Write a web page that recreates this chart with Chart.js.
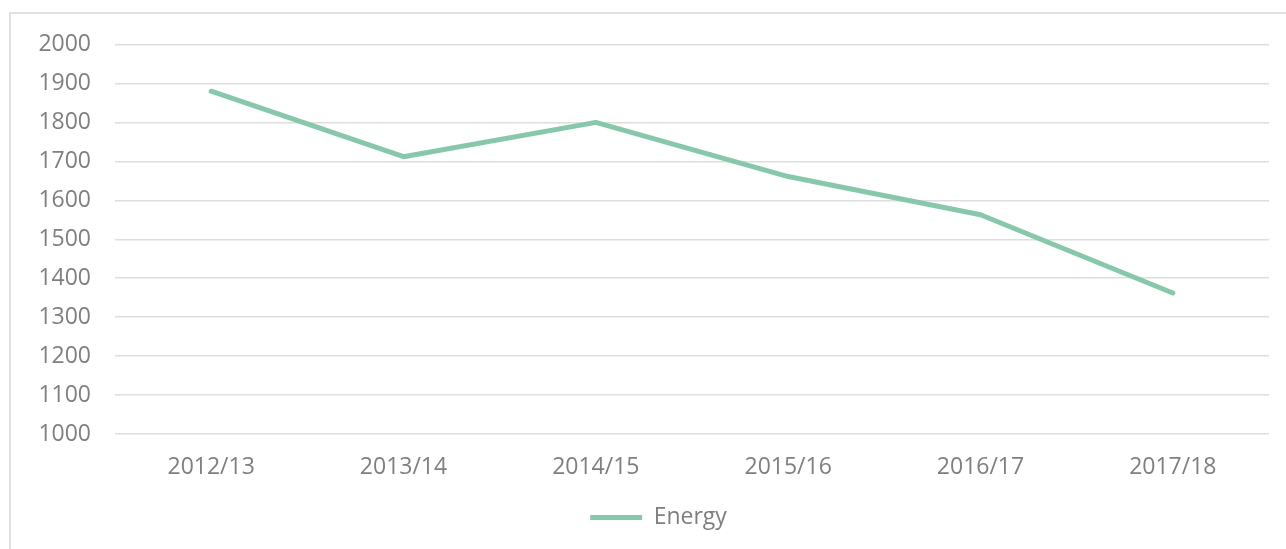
<!DOCTYPE html>
<html lang="en">
    <head>
        <title>Energy</title>
        <meta charset="utf-8">
        <script src="https://cdn.jsdelivr.net/npm/chart.js@4.4.0/dist/chart.umd.min.js"></script>
        <style>
            html, body {
                margin: 0;
                padding: 0;
                background: #ffffff;
                overflow: hidden;
            }
            #frame { /* light border round the chart, runs off right and bottom */
                position: absolute;
                left: 9px;
                top: 12px;
                width: 1300px;
                height: 560px;
                border: 2px solid #e0e0e0;
            }
            #chartBox {
                position: absolute;
                left: 0;
                top: 0;
                width: 1286px;
                height: 549px;
            }
        </style>
    </head>
    <body>
        <div id="frame"></div>
        <div id="chartBox">
            <canvas id="energyChart"></canvas>
        </div>
        <script>
            // data
            var years = ['2012/13', '2013/14', '2014/15', '2015/16', '2016/17', '2017/18'];
            var energy = [1880, 1712, 1800, 1661, 1563, 1362];
            var seriesName = 'Energy';
            var yMin = 1000, yMax = 2000, yStep = 100;

            var grey = '#7f7f7f';
            var green = '#88c8aa';
            var font = { family: 'Open Sans', size: 23 };

            // legend sits a little right of the middle in the original
            var shiftLegend = {
                id: 'shiftLegend',
                afterLayout: function (chart) {
                    chart.legend.left += 24;
                    chart.legend.right += 24;
                }
            };

            var ctx = document.getElementById('energyChart').getContext('2d');
            var myChart = new Chart(ctx, {
                type: 'line',
                data: {
                    labels: years,
                    datasets: [{
                        label: seriesName,
                        data: energy,
                        borderColor: green,
                        backgroundColor: green,
                        borderWidth: 5,
                        borderCapStyle: 'round',
                        borderJoinStyle: 'round',
                        pointRadius: 0,
                        tension: 0,
                        fill: false
                    }]
                },
                options: {
                    responsive: true,
                    maintainAspectRatio: false,
                    animation: false,
                    layout: { padding: { top: 44.5, right: 17, bottom: 10, left: 0 } },
                    plugins: {
                        tooltip: { enabled: false },
                        legend: {
                            position: 'bottom',
                            labels: {
                                color: grey,
                                font: font,
                                boxWidth: 52,
                                boxHeight: 5,
                                padding: 10,
                                generateLabels: function (chart) {
                                    var items = Chart.defaults.plugins.legend.labels.generateLabels(chart);
                                    items.forEach(function (it) { it.lineWidth = 0; });
                                    return items;
                                }
                            }
                        }
                    },
                    scales: {
                        x: {
                            offset: true,
                            grid: { display: false, drawTicks: false },
                            border: { display: false },
                            ticks: { color: grey, font: font, padding: 20, maxRotation: 0 },
                            afterFit: function (scale) { scale.height = 62; }
                        },
                        y: {
                            min: yMin,
                            max: yMax,
                            grid: { color: '#dedede', lineWidth: 1.5, drawTicks: false },
                            border: { display: false },
                            ticks: {
                                stepSize: yStep, color: grey, font: font, padding: 24,
                                callback: function (v) { return String(v); }
                            },
                            afterFit: function (scale) { scale.width = 115; }
                        }
                    }
                },
                plugins: [shiftLegend]
            });
        </script>
    </body>
</html>
